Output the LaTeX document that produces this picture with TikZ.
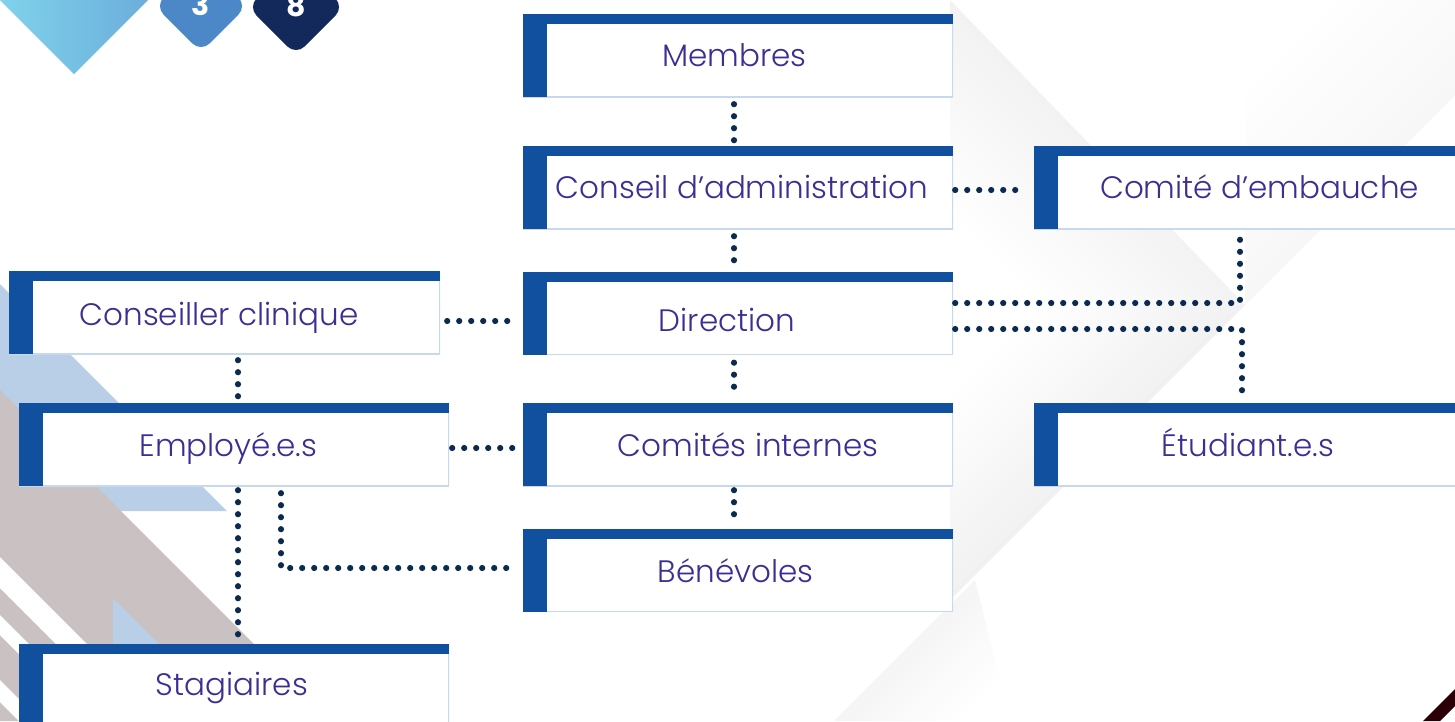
\documentclass[tikz,border=0pt]{standalone}
\usepackage{fontspec}
\setmainfont{Poppins}[UprightFont=* Light, BoldFont=* Bold]
\definecolor{boxblue}{HTML}{10509E}
\definecolor{boxline}{HTML}{C8D8EE}
\definecolor{txtpurple}{HTML}{3D2E93}
\definecolor{dotnavy}{HTML}{0A2A4E}
\definecolor{lblue}{HTML}{B9CFE7}
\definecolor{mauve}{HTML}{CAC2C2}
\definecolor{dmdA}{HTML}{4C88C7}
\definecolor{dmdB}{HTML}{13295C}
\definecolor{triA}{HTML}{80D2EB}
\definecolor{triB}{HTML}{6BAEDC}
\definecolor{maroonc}{HTML}{2A0006}
\begin{document}
\begin{tikzpicture}[x=1pt,y=-1pt,
 orgbox/.style={fill=white, inner sep=0pt, minimum width=430pt, minimum height=83pt,
   path picture={
     \draw[boxline, line width=1.6pt] (path picture bounding box.north east) -- (path picture bounding box.south east) -- (path picture bounding box.south west);
     \fill[boxblue] (path picture bounding box.north west) rectangle ([yshift=-10pt]path picture bounding box.north east);
     \fill[boxblue] (path picture bounding box.north west) rectangle ([xshift=24pt]path picture bounding box.south west);
   }},
 lbl/.style={anchor=base, text=txtpurple, font=\fontsize{31}{31}\selectfont, inner sep=0pt},
 digit/.style={anchor=base, text=white, font=\fontsize{30}{30}\selectfont\bfseries, inner sep=0pt},
 dotline/.style={draw=dotnavy, line width=6.2pt, line cap=round, dash pattern=on 0pt off 12pt},
]
\useasboundingbox (0,0) rectangle (1455,721);
\clip (0,0) rectangle (1455,721);
\fill[white] (0,0) rectangle (1455,721);

% soft background folds
\shade[top color=black!10, bottom color=white, shading angle=-45] (950,0) -- (1245,305) -- (950,305) -- cycle;
\shade[top color=black!11, bottom color=white, shading angle=-135] (950,305) -- (1245,305) -- (950,600) -- cycle;
\shade[top color=white, bottom color=black!7, shading angle=-135] (975,580) -- (834,721) -- (1010,721) -- cycle;
\shade[top color=black!5, bottom color=white, shading angle=-135] (1245,305) -- (1455,95) -- (1455,0) -- (1245,0) -- cycle;

% left decoration
\fill[lblue] (0,284) -- (227,511) -- (0,511) -- cycle;
\fill[mauve] (0,390) -- (331,721) -- (0,721) -- cycle;
\fill[white] (0,557) -- (200,757) -- (200,788) -- (0,588) -- cycle;
\fill[white] (0,615) -- (200,815) -- (200,835) -- (0,635) -- cycle;
\fill[white] (0,680) -- (100,780) -- (100,802) -- (0,702) -- cycle;
\fill[lblue] (113,598) -- (170,655) -- (113,655) -- cycle;

% top-left decoration
\shade[left color=triA, right color=triB] (0,0) -- (148,0) -- (74,74) -- cycle;
\fill[dmdA, rounded corners=12pt] (155,6) -- (201,52) -- (247,6) -- (201,-40) -- cycle;
\fill[dmdB, rounded corners=12pt] (248,7) -- (296,55) -- (344,7) -- (296,-41) -- cycle;
\node[digit] (d3) at (201,15) {3};
\node[digit] (d8) at (296,16) {8};

% bottom-right stripe
\fill[maroonc] (1423,721) -- (1455,689) -- (1455,706) -- (1440,721) -- cycle;

% boxes
\node[orgbox] (membres) at (738,55.5) {};
\node[orgbox] (conseil) at (738,187.5) {};
\node[orgbox] (direction) at (738,313) {};
\node[orgbox] (comites) at (738,444.5) {};
\node[orgbox] (benevoles) at (738,570) {};
\node[orgbox, minimum width=446pt] (embauche) at (1257,187.5) {};
\node[orgbox, minimum width=446pt] (etudiants) at (1257,444.5) {};
\node[orgbox, minimum width=431pt] (clinique) at (224.5,312.5) {};
\node[orgbox] (employes) at (234,444.5) {};
\node[orgbox] (stagiaires) at (234,685.5) {};

% labels
\node[lbl] (tmembres) at (734.5,66) {Membres};
\node[lbl] (tconseil) at (742,198) {Conseil d’administration};
\node[lbl] (tdirection) at (727,331) {Direction};
\node[lbl] (tcomites) at (748,456) {Comités internes};
\node[lbl] (tbenevoles) at (735.5,582) {Bénévoles};
\node[lbl] (tembauche) at (1259.5,198) {Comité d’embauche};
\node[lbl] (tetudiants) at (1248,456) {Étudiant.e.s};
\node[lbl] (tclinique) at (219,325) {Conseiller clinique};
\node[lbl] (temployes) at (228.5,456) {Employé.e.s};
\node[lbl] (tstagiaires) at (232,695) {Stagiaires};

% connectors
\draw[dotline, shorten <=7pt, shorten >=5pt] ([xshift=-4pt]membres.south) -- ([xshift=-4pt]conseil.north);
\draw[dotline, shorten <=7pt, shorten >=4pt] ([xshift=-4pt]conseil.south) -- ([xshift=-4pt]direction.north);
\draw[dotline, shorten <=8pt, shorten >=5pt] ([xshift=-4pt]direction.south) -- ([xshift=-4pt]comites.north);
\draw[dotline, shorten <=4pt, shorten >=5pt] ([xshift=-4pt]comites.south) -- ([xshift=-4pt]benevoles.north);
\draw[dotline, shorten <=2pt, shorten >=8pt] ([yshift=-2.5pt]conseil.east) -- ([yshift=-2.5pt]embauche.west);
\draw[dotline, shorten <=7pt, shorten >=4pt] ([yshift=-8.5pt]clinique.east) -- ([yshift=-8pt]direction.west);
\draw[dotline, shorten <=3pt, shorten >=5pt] ([yshift=-3.5pt]employes.east) -- ([yshift=-3.5pt]comites.west);
\draw[dotline, shorten <=2pt] ([yshift=10pt]direction.east) -| ([xshift=-17pt]embauche.south);
\draw[dotline, shorten <=2pt, shorten >=5pt] ([yshift=-16pt]direction.east) -| ([xshift=-15pt]etudiants.north);
\draw[dotline, shorten <=6pt, shorten >=3pt] ([xshift=13.5pt]clinique.south) -- ([xshift=4pt]employes.north);
\draw[dotline, shorten <=4pt, shorten >=2pt] ([xshift=4pt]employes.south) -- ([xshift=4pt]stagiaires.north);
\draw[dotline, shorten <=7pt, shorten >=9pt] ([xshift=47pt]employes.south) |- ([yshift=2pt]benevoles.west);
\end{tikzpicture}
\end{document}
